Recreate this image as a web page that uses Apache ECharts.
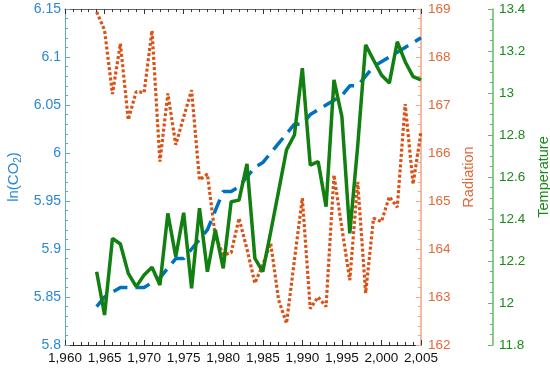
<!DOCTYPE html>
<html>
<head>
<meta charset="utf-8">
<script src="https://cdn.jsdelivr.net/npm/echarts@6/dist/echarts.min.js"></script>
<style>html,body{margin:0;padding:0;background:#fff}#c{width:550px;height:368px}</style>
</head>
<body>
<div id="c"></div>
<script>
var years = [1964,1965,1966,1967,1968,1969,1970,1971,1972,1973,1974,1975,1976,1977,1978,1979,1980,1981,1982,1983,1984,1985,1986,1987,1988,1989,1990,1991,1992,1993,1994,1995,1996,1997,1998,1999,2000,2001,2002,2003,2004,2005];
var lnCO2 = [5.84,5.85,5.855,5.86,5.86,5.86,5.86,5.865,5.87,5.88,5.89,5.89,5.90,5.91,5.92,5.94,5.96,5.96,5.965,5.975,5.985,5.99,6.00,6.01,6.02,6.03,6.03,6.04,6.045,6.05,6.055,6.06,6.07,6.07,6.08,6.09,6.095,6.10,6.105,6.11,6.115,6.12];
var radiation = [168.94,168.56,167.23,168.28,166.69,167.28,167.26,168.55,165.82,167.24,166.17,166.75,167.31,165.44,165.56,164.26,163.88,163.92,164.64,164.0,163.29,163.67,164.12,162.94,162.45,163.77,165.06,162.76,163.0,162.8,165.54,164.44,163.35,165.40,163.08,164.64,164.57,165.09,164.87,167.02,165.35,166.44];
var temperature = [12.149,11.943,12.308,12.281,12.141,12.078,12.133,12.170,12.086,12.427,12.220,12.430,12.070,12.451,12.149,12.348,12.165,12.482,12.490,12.662,12.213,12.149,12.338,12.533,12.729,12.80,13.118,12.657,12.673,12.459,13.062,12.887,12.332,12.748,13.229,13.157,13.086,13.047,13.244,13.149,13.078,13.062];

function pairs(v){ return years.map(function(y,i){ return [y, v[i]]; }); }

var FONT = 'Liberation Sans';
var BLUE = '#0072BD', ORANGE = '#D95319', GREEN = '#118011';
var chart = echarts.init(document.getElementById('c'));
chart.setOption({
  animation: false,
  textStyle: {fontFamily: FONT},
  grid: {left: 65, right: 129, top: 9, bottom: 23, containLabel: false, outerBoundsMode: 'none'},
  xAxis: [{
    type: 'value', min: 1960, max: 2005, interval: 5, position: 'bottom',
    axisLine: {show: true, lineStyle: {color: '#333', width: 1}},
    axisTick: {show: true, inside: true, length: 5, lineStyle: {color: '#333'}},
    minorTick: {show: true, splitNumber: 5, length: 3, lineStyle: {color: '#333'}},
    axisLabel: {color: '#111', fontSize: 13.5, margin: 6, fontFamily: FONT},
    splitLine: {show: false}
  },{
    type: 'value', min: 1960, max: 2005, interval: 5, position: 'top',
    axisLine: {show: true, lineStyle: {color: '#666', width: 1}},
    axisTick: {show: true, inside: true, length: 5, lineStyle: {color: '#333'}},
    minorTick: {show: true, splitNumber: 5, length: 3, lineStyle: {color: '#333'}},
    axisLabel: {show: false},
    splitLine: {show: false}
  }],
  yAxis: [{
    type: 'value', min: 5.8, max: 6.15, interval: 0.05, position: 'left',
    name: '{a|ln(CO}{b|2}{a|)}', nameLocation: 'middle', nameGap: 40, nameRotate: 90,
    nameTextStyle: {rich: {a: {color: '#2A88D6', fontSize: 15, fontFamily: FONT}, b: {color: '#2A88D6', fontSize: 10, fontFamily: FONT, padding: [8,0,0,0]}}},
    axisLine: {show: true, lineStyle: {color: '#5FA6E0', width: 1}},
    axisTick: {show: true, inside: true, length: 5, lineStyle: {color: '#5FA6E0'}},
    minorTick: {show: true, splitNumber: 5, length: 3, lineStyle: {color: '#5FA6E0'}},
    axisLabel: {color: '#2A88D6', fontSize: 14, margin: 4, fontFamily: FONT,
      formatter: function(v){ return String(Math.round(v*100)/100); }},
    splitLine: {show: false}
  },{
    type: 'value', min: 162, max: 169, interval: 1, position: 'right',
    name: 'Radiation', nameLocation: 'middle', nameGap: 30, nameRotate: 90,
    nameTextStyle: {color: '#E2693A', fontSize: 14.5, fontFamily: FONT},
    axisLine: {show: true, lineStyle: {color: '#F0A584', width: 1.5}},
    axisTick: {show: true, inside: true, length: 5, lineStyle: {color: '#F0A584'}},
    minorTick: {show: true, splitNumber: 5, length: 3, lineStyle: {color: '#F0A584'}},
    axisLabel: {color: '#E2693A', fontSize: 13.5, margin: 7, fontFamily: FONT},
    splitLine: {show: false}
  },{
    type: 'value', min: 11.8, max: 13.4, interval: 0.2, position: 'right', offset: 72,
    name: 'Temperature', nameLocation: 'middle', nameGap: 39, nameRotate: 90,
    nameTextStyle: {color: '#1A8A1A', fontSize: 14.5, fontFamily: FONT},
    axisLine: {show: true, lineStyle: {color: '#66B866', width: 1.5}},
    axisTick: {show: true, inside: true, length: 5, lineStyle: {color: '#66B866'}},
    minorTick: {show: true, splitNumber: 4, length: 3, lineStyle: {color: '#66B866'}},
    axisLabel: {color: '#1A8A1A', fontSize: 13.5, margin: 6, fontFamily: FONT,
      formatter: function(v){ return String(Math.round(v*10)/10); }},
    splitLine: {show: false}
  }],
  series: [{
    type: 'line', name: 'ln(CO2)', yAxisIndex: 0, data: pairs(lnCO2),
    symbol: 'none', lineStyle: {color: BLUE, width: 3.5, type: [15, 8]}, z: 3
  },{
    type: 'line', name: 'Radiation', yAxisIndex: 1, data: pairs(radiation),
    symbol: 'none', lineStyle: {color: ORANGE, width: 3.2, type: [3, 2.2]}, z: 2
  },{
    type: 'line', name: 'Temperature', yAxisIndex: 2, data: pairs(temperature),
    symbol: 'none', lineStyle: {color: GREEN, width: 3.5}, z: 4
  }]
});
</script>
</body>
</html>
